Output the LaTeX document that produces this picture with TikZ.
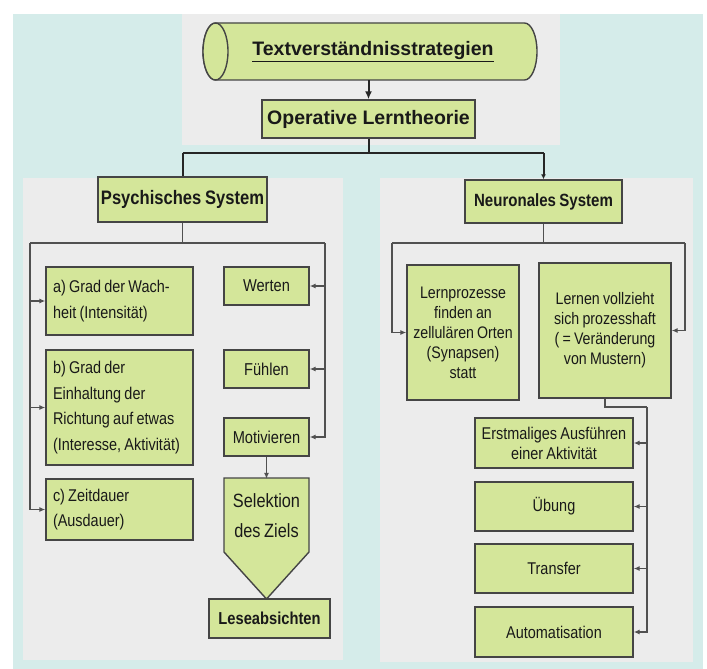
\documentclass[tikz,border=0pt]{standalone}
\usepackage{fontspec}
\setmainfont{Liberation Sans}
\newfontfamily\narrowfont{Liberation Sans}[FakeStretch=0.85, WordSpace=0.8]
\usetikzlibrary{arrows.meta}

\definecolor{hintergrund}{HTML}{D5ECEA}
\definecolor{feld}{HTML}{ECECEC}
\definecolor{gruen}{HTML}{D4E69A}
\definecolor{rand}{HTML}{454545}
\definecolor{linie}{HTML}{505050}

\begin{document}
\begin{tikzpicture}[x=1pt, y=-1pt,
	kastenrand/.style={draw=rand, line width=1.4pt, fill=gruen},
	kasten/.style={kastenrand, inner sep=0pt, text=black!90},
	titel/.style={kasten, font=\bfseries\fontsize{19.5}{22}\selectfont},
	schmaltitel/.style={kasten, font=\narrowfont\bfseries\fontsize{#1}{22}\selectfont},
	textlinks/.style={kasten, font=\narrowfont\fontsize{17}{25.5}\selectfont, align=flush left, text width=133, minimum width=147},
	textmitte/.style={kasten, font=\narrowfont\fontsize{#1}{20}\selectfont, align=center},
	hauptlinie/.style={draw=black!85, line width=2pt},
	verbindung/.style={draw=linie, line width=1.2pt},
	pfeil/.style={verbindung, -{Latex[length=6pt,width=5pt]}}]

\useasboundingbox (0,0) rectangle (707,669);

% Hintergrund
	\fill[white] (0,0) rectangle (707,669);
	\fill[hintergrund] (13,14) rectangle (703,669);
	\fill[feld] (182,14) rectangle (560,145);
	\fill[feld] (23,178) rectangle (343,660);
	\fill[feld] (380,178) rectangle (693,662);

% Zylinder oben
	\filldraw[kastenrand] (215.5,23) -- (524.5,23)
		arc[start angle=90, end angle=-90, x radius=12.5pt, y radius=28.5pt]
		-- (215.5,80)
		arc[start angle=270, end angle=90, x radius=12.5pt, y radius=28.5pt] -- cycle;
	\draw[kastenrand] (215.5,51.5) ellipse[x radius=12.5pt, y radius=28.5pt];
	\node[inner sep=0pt, minimum width=334, minimum height=57, text=black!90,
		font=\bfseries\fontsize{19.5}{22}\selectfont] (strat) at (373,51.5) {\underline{Textverständnisstrategien}};

	\node[titel, minimum width=213, minimum height=38] (oper) at (368.5,119) {Operative Lerntheorie};

	\draw[hauptlinie, -{Latex[length=8pt,width=7pt]}] (strat.south -| oper.north) -- (oper.north);

% Verzweigung
	\coordinate (top) at (0,153);
	\node[schmaltitel=19.5, minimum width=169, minimum height=45] (psych) at (182.5,199.5) {Psychisches System};
	\node[schmaltitel=17.7, minimum width=157, minimum height=43] (neuro) at (543.5,201.5) {Neuronales System};

	\draw[hauptlinie] (oper.south) -- (oper.south |- top);
	\draw[hauptlinie] (psych.north |- top) -- (neuro.north |- top);
	\draw[hauptlinie] (psych.north |- top) -- (psych.north);
	\draw[hauptlinie, -{Latex[length=5pt,width=5pt]}] (neuro.north |- top) -- (neuro.north);

% Psychisches System
	\node[textlinks, minimum height=68] (a) at (119.5,301) {a) Grad der Wach-\\heit (Intensität)};
	\node[textlinks, minimum height=115] (b) at (119.5,407.5) {b) Grad der\\Einhaltung der\\Richtung auf etwas\\(Interesse, Aktivität)};
	\node[textlinks, minimum height=61] (c) at (119.5,509.5) {c) Zeitdauer\\(Ausdauer)};

	\node[textmitte=17.2, minimum width=85, minimum height=38] (werten) at (266.5,286) {Werten};
	\node[textmitte=17.2, minimum width=85, minimum height=38] (fuehlen) at (266.5,369) {Fühlen};
	\node[textmitte=17.2, minimum width=85, minimum height=38] (motiv) at (266.5,437) {Motivieren};

	\filldraw[kastenrand] (224,478) -- (309,478) -- (309,552) -- (266.5,599) -- (224,552) -- cycle;
	\node[inner sep=0pt, minimum width=85, minimum height=74, align=center, text=black!90,
		font=\narrowfont\fontsize{19.2}{30}\selectfont] (selekt) at (266.5,516) {Selektion\\des Ziels};
	\node[schmaltitel=17.3, minimum width=121, minimum height=39] (lese) at (269.5,618.5) {Leseabsichten};

	\coordinate (pl) at (30,243);
	\coordinate (pr) at (325,243);
	\draw[verbindung] (psych.south) -- (psych.south |- pl);
	\draw[verbindung] (pl) -- (pr);
	\foreach \ziel in {a,b,c}
		\draw[pfeil] (pl) |- (\ziel.west);
	\foreach \ziel in {werten,fuehlen,motiv}
		\draw[pfeil] (pr) |- (\ziel.east);
	\draw[pfeil] (motiv.south) -- (selekt.north);

% Neuronales System
	\node[textmitte=16.7, minimum width=112, minimum height=135] (lernp) at (463,332.5) {Lernprozesse\\finden an\\zellulären Orten\\(Synapsen)\\statt};
	\node[textmitte=16.7, minimum width=132, minimum height=135] (lernen) at (605,330.5) {Lernen vollzieht\\sich prozesshaft\\( = Veränderung\\von Mustern)};

	\node[textmitte=17, minimum width=158, minimum height=50] (erst) at (554,443) {Erstmaliges Ausführen\\einer Aktivität};
	\node[textmitte=17, minimum width=158, minimum height=49] (uebung) at (554,506.5) {Übung};
	\node[textmitte=17, minimum width=158, minimum height=49] (transfer) at (554,568.5) {Transfer};
	\node[textmitte=17, minimum width=158, minimum height=50] (auto) at (554,632) {Automatisation};

	\coordinate (nl) at (392,243);
	\coordinate (nr) at (685,243);
	\coordinate (nu) at (647,407);
	\draw[verbindung] (neuro.south) -- (neuro.south |- nl);
	\draw[verbindung] (nl) -- (nr);
	\draw[pfeil] (nl) |- (lernp.west);
	\draw[pfeil] (nr) |- (lernen.east);
	\draw[verbindung] (lernen.south) |- (nu);
	\foreach \ziel in {erst,uebung,transfer,auto}
		\draw[pfeil] (nu) |- (\ziel.east);
\end{tikzpicture}
\end{document}
